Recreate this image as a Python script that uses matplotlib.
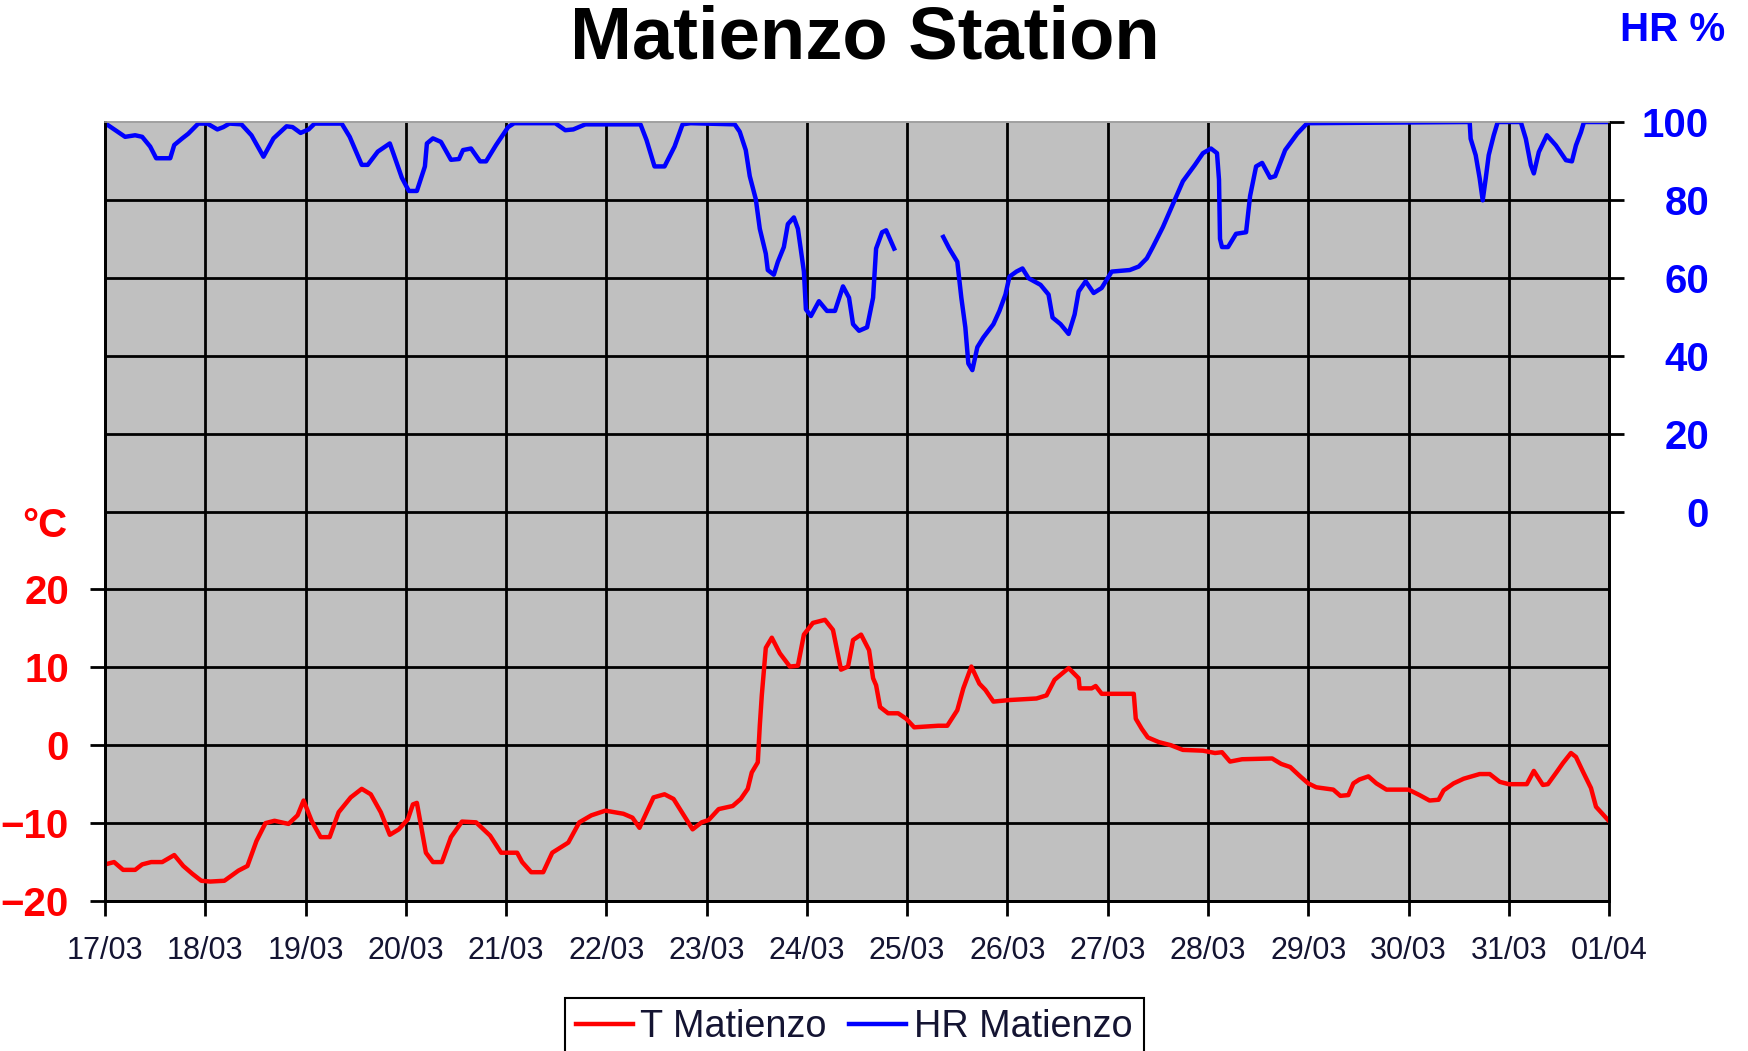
import numpy as np
import matplotlib
matplotlib.use('Agg')
import matplotlib.pyplot as plt

plt.rcParams['font.family'] = ['Liberation Sans', 'DejaVu Sans']

# days since 17/03 00:00
date_labels = ['17/03', '18/03', '19/03', '20/03', '21/03', '22/03', '23/03', '24/03',
               '25/03', '26/03', '27/03', '28/03', '29/03', '30/03', '31/03', '01/04']

temp_days = [0, 0.09, 0.18, 0.3, 0.37, 0.46, 0.57, 0.69, 0.78, 0.87, 0.96, 1.05, 1.19, 1.33,
             1.42, 1.51, 1.6, 1.69, 1.83, 1.92, 1.98, 2.06, 2.15, 2.24, 2.33, 2.45, 2.56, 2.65,
             2.75, 2.84, 2.93, 3.02, 3.07, 3.11, 3.2, 3.27, 3.36, 3.45, 3.56, 3.7, 3.84, 3.95,
             4.11, 4.16, 4.25, 4.37, 4.46, 4.62, 4.73, 4.85, 4.99, 5.17, 5.26, 5.33, 5.47, 5.58,
             5.67, 5.86, 5.95, 6.02, 6.12, 6.26, 6.34, 6.41, 6.45, 6.51, 6.53, 6.55, 6.59, 6.65,
             6.73, 6.83, 6.91, 6.97, 7.06, 7.18, 7.26, 7.34, 7.41, 7.46, 7.54, 7.62, 7.66, 7.69,
             7.73, 7.81, 7.91, 7.99, 8.07, 8.31, 8.4, 8.5, 8.56, 8.64, 8.72, 8.78, 8.86, 9.02,
             9.29, 9.39, 9.47, 9.61, 9.71, 9.72, 9.84, 9.88, 9.94, 10.08, 10.26, 10.28, 10.34,
             10.4, 10.51, 10.63, 10.75, 10.95, 11.07, 11.14, 11.22, 11.34, 11.64, 11.73, 11.82,
             11.92, 12.0, 12.08, 12.25, 12.32, 12.4, 12.45, 12.51, 12.6, 12.68, 12.78, 13.0,
             13.11, 13.21, 13.3, 13.35, 13.45, 13.55, 13.71, 13.81, 13.91, 14.0, 14.18, 14.25,
             14.34, 14.39, 14.48, 14.54, 14.62, 14.67, 14.74, 14.82, 14.87, 14.99]
temp_vals = [-15.3, -15, -16, -16, -15.3, -15, -15, -14.1, -15.5, -16.5, -17.4, -17.5, -17.4, -16.1,
             -15.5, -12.3, -10, -9.7, -10.1, -9, -7.1, -9.7, -11.8, -11.8, -8.6, -6.7, -5.6, -6.3,
             -8.6, -11.5, -10.8, -9.5, -7.6, -7.4, -13.8, -15, -15, -11.8, -9.8, -9.9, -11.6, -13.8,
             -13.8, -15, -16.3, -16.3, -13.8, -12.5, -9.9, -9, -8.4, -8.8, -9.3, -10.6, -6.7, -6.3,
             -6.9, -10.8, -9.9, -9.6, -8.2, -7.8, -6.9, -5.6, -3.5, -2.2, 2.5, 6.4, 12.5, 13.8,
             11.8, 10.1, 10.2, 14.2, 15.7, 16.1, 14.8, 9.7, 10.1, 13.5, 14.2, 12.2, 8.6, 7.7,
             4.9, 4.1, 4.1, 3.4, 2.3, 2.5, 2.5, 4.5, 7.3, 10.1, 7.9, 7.1, 5.6, 5.8,
             6.0, 6.4, 8.4, 9.9, 8.6, 7.3, 7.3, 7.6, 6.6, 6.6, 6.6, 3.4, 2.1,
             1.0, 0.4, 0.0, -0.6, -0.7, -1.0, -0.9, -2.1, -1.8, -1.7, -2.4, -2.8,
             -4.0, -4.9, -5.4, -5.7, -6.5, -6.4, -4.9, -4.4, -4.0, -4.9, -5.7, -5.7,
             -6.4, -7.1, -7.0, -5.8, -4.9, -4.3, -3.7, -3.7, -4.7, -5.0, -5.0, -3.3,
             -5.1, -5.0, -3.4, -2.3, -1.0, -1.5, -3.4, -5.5, -7.9, -9.6]

# nan = missing data on 25/03
hr_days = [0, 0.08, 0.2, 0.3, 0.37, 0.45, 0.51, 0.65, 0.69, 0.77, 0.83, 0.93, 1.02, 1.12, 1.18,
           1.24, 1.36, 1.46, 1.58, 1.68, 1.81, 1.87, 1.95, 2.03, 2.09, 2.36, 2.44, 2.56, 2.62,
           2.72, 2.84, 2.88, 2.96, 3.03, 3.11, 3.19, 3.21, 3.27, 3.35, 3.45, 3.53, 3.57, 3.65,
           3.74, 3.8, 3.9, 4.02, 4.08, 4.49, 4.59, 4.67, 4.79, 5.34, 5.4, 5.48, 5.58, 5.68, 5.76,
           5.84, 6.28, 6.33, 6.39, 6.43, 6.49, 6.53, 6.59, 6.61, 6.67, 6.71, 6.77, 6.81, 6.87,
           6.91, 6.97, 6.99, 7.04, 7.12, 7.2, 7.28, 7.36, 7.42, 7.46, 7.52, 7.6, 7.66, 7.69,
           7.75, 7.79, 7.87, 8.1, 8.36, 8.42, 8.5, 8.54, 8.58, 8.61, 8.65, 8.7, 8.76, 8.86,
           8.92, 8.98, 9.02, 9.09, 9.15, 9.21, 9.33, 9.41, 9.45, 9.53, 9.61, 9.67, 9.71, 9.78,
           9.86, 9.94, 10.04, 10.22, 10.31, 10.39, 10.45, 10.55, 10.65, 10.75, 10.87, 10.95,
           11.03, 11.09, 11.11, 11.12, 11.14, 11.2, 11.28, 11.38, 11.42, 11.48, 11.54, 11.62,
           11.67, 11.77, 11.89, 11.99, 13.61, 13.62, 13.67, 13.71, 13.74, 13.77, 13.8, 13.85,
           13.89, 14.12, 14.17, 14.22, 14.25, 14.3, 14.38, 14.47, 14.57, 14.63, 14.67, 14.72,
           14.75, 15.0]
hr_vals = [99.7, 98.3, 96.2, 96.6, 96.2, 93.7, 90.7, 90.7, 94.1, 95.8, 97, 99.6, 99.6, 98.1, 98.7,
           99.6, 99.4, 96.6, 91.1, 95.8, 98.9, 98.7, 97.2, 98.1, 99.6, 99.6, 96.2, 89, 89,
           92.4, 94.5, 91.6, 85.7, 82.3, 82.3, 88.6, 94.5, 95.8, 94.9, 90.3, 90.5, 92.8, 93.2,
           89.9, 89.9, 94.1, 98.7, 99.7, 99.7, 97.9, 98.1, 99.4, 99.4, 95.4, 88.6, 88.6, 93.7, 99.4,
           99.7, 99.4, 97.5, 92.8, 86.1, 80.2, 72.6, 66.2, 62, 60.8, 64.1, 67.9, 73.8, 75.5,
           72.6, 61.6, 51.9, 50.2, 54, 51.5, 51.5, 57.8, 54.9, 48.1, 46.4, 47.3, 54.9, 67.5,
           71.7, 72.2, 67.5, np.nan, 70.5, 67.5, 64.1, 54.9, 47.3, 38, 36.3, 42.2, 44.7, 48.1,
           51.5, 55.7, 60.3, 61.6, 62.4, 59.9, 58.2, 55.7, 49.8, 48.1, 45.6, 50.6, 56.5, 59.1,
           56.1, 57.4, 61.6, 62, 62.9, 65, 67.9, 73, 78.9, 84.8, 89, 92,
           93.2, 92, 85.2, 70, 67.9, 67.9, 71.3, 71.7, 81, 88.6, 89.5, 85.7,
           86.1, 92.8, 97, 99.7, 100, 95.7, 91.5, 85.5, 79.9, 85.5, 91.5, 96.6,
           100, 100, 95.7, 88.9, 86.8, 92.3, 96.6, 94, 90.2, 89.9, 94, 97.4,
           100, 100]

temp_ticks = [-20, -10, 0, 10, 20]
temp_grid_extra = [30, 40, 50, 60, 70]
hr_ticks = [0, 20, 40, 60, 80, 100]

fig = plt.figure(figsize=(17.48, 10.51), dpi=100)
ax = fig.add_axes([0.0601, 0.1427, 0.8604, 0.7412])
ax.set_facecolor('#c0c0c0')

l1, = ax.plot(temp_days, temp_vals, color='#ff0000', lw=3.2, label='T Matienzo', zorder=3)
ax.set_xlim(0, 15)
ax.set_ylim(-20, 80)
ax.set_xticks(range(len(date_labels)))
ax.set_xticklabels(date_labels)
ax.set_yticks(temp_ticks)
ax.set_yticks(temp_grid_extra, minor=True)
ax.grid(True, which='both', color='black', lw=2.0)
ax.tick_params(axis='y', which='minor', length=0)
ax.tick_params(axis='y', which='major', direction='out', length=11, width=2.0,
               labelsize=29, labelcolor='#ff0000', pad=15)
ax.tick_params(axis='x', direction='out', length=11, width=2.0,
               labelsize=22, labelcolor='#141432', pad=14)
for lbl in ax.get_yticklabels():
    lbl.set_fontweight('bold')

ax2 = ax.twinx()
l2, = ax2.plot(hr_days, hr_vals, color='#0000ff', lw=3.2, label='HR Matienzo')
ax2.set_ylim(-100, 100)
ax2.set_yticks(hr_ticks)
ax2.tick_params(axis='y', direction='out', length=11, width=2.0,
                labelsize=29, labelcolor='#0000ff', pad=61)
for lbl in ax2.get_yticklabels():
    lbl.set_fontweight('bold')
    lbl.set_horizontalalignment('right')

for a in (ax, ax2):
    for s in ('left', 'right', 'bottom'):
        a.spines[s].set_color('black')
        a.spines[s].set_linewidth(2.0)
    a.spines['top'].set_color('#a0a0a0')
    a.spines['top'].set_linewidth(1.2)

fig.text(0.495, 0.9448, 'Matienzo Station', fontsize=53.5, fontweight='bold',
         ha='center', va='baseline')
fig.text(0.0126, 0.489, '°C', fontsize=29, fontweight='bold', color='#ff0000',
         ha='left', va='baseline')
fig.text(0.9268, 0.961, 'HR %', fontsize=29, fontweight='bold', color='#0000ff',
         ha='left', va='baseline')

leg = fig.legend([l1, l2], ['T Matienzo', 'HR Matienzo'], loc='upper center',
                 bbox_to_anchor=(0.4886, 0.0504), ncol=2, fontsize=27.2,
                 frameon=True, fancybox=False, edgecolor='black', framealpha=1,
                 borderpad=0.3, handlelength=1.5, handletextpad=0.2,
                 columnspacing=0.6, borderaxespad=0)
leg.get_frame().set_linewidth(1.5)
for t in leg.get_texts():
    t.set_color('#141432')

fig.savefig('out.png', dpi=100)
